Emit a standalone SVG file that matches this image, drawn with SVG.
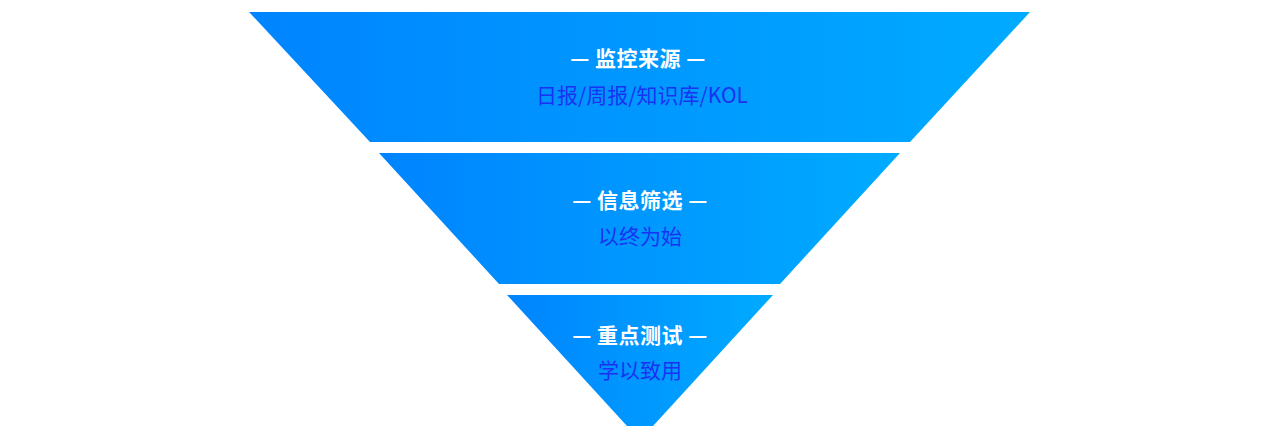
<svg xmlns="http://www.w3.org/2000/svg" width="1280" height="437" viewBox="0 0 1280 437">
<defs>
<linearGradient id="g" x1="0" y1="0" x2="1" y2="0">
<stop offset="0" stop-color="#0084FF"/>
<stop offset="1" stop-color="#00ABFF"/>
</linearGradient>
<style>
.band{fill:url(#g);}
.t{font-family:"Noto Sans CJK SC","Noto Sans",sans-serif;font-size:21px;text-anchor:middle;}
.h{fill:#FFFFFF;font-weight:bold;}
.s{fill:#1A33F2;}
</style>
</defs>
<rect width="1280" height="437" fill="#FFFFFF"/>
<g id="node-source">
<polygon class="band" points="249,12 1030,12 910,142 370,142"/>
<text class="t h" x="638" y="66" letter-spacing="0.5">— 监控来源 —</text>
<text class="t s" x="642" y="103">日报/周报/知识库/KOL</text>
</g>
<g id="node-filter">
<polygon class="band" points="379,153 900,153 780,284 499,284"/>
<text class="t h" x="640" y="208" letter-spacing="0.5">— 信息筛选 —</text>
<text class="t s" x="640" y="244">以终为始</text>
</g>
<g id="node-test">
<polygon class="band" points="507,295 773,295 653,426 627,426"/>
<text class="t h" x="640" y="343" letter-spacing="0.5">— 重点测试 —</text>
<text class="t s" x="640" y="378">学以致用</text>
</g>
<g id="connectors"/>
</svg>
